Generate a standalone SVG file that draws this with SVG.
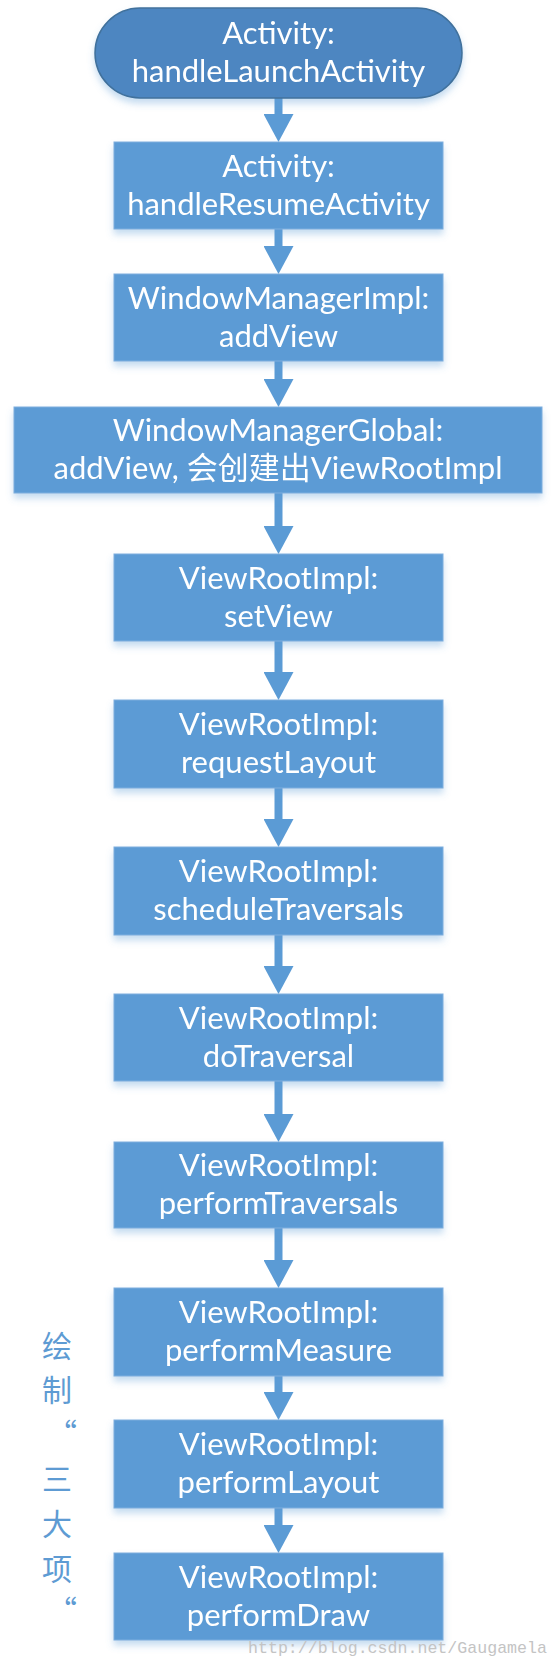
<svg xmlns="http://www.w3.org/2000/svg" width="559" height="1666" viewBox="0 0 559 1666">
<defs>
<style>
.box{fill:#5b9bd5;stroke:#7eaede;stroke-width:1}
.term{fill:#4d86c1;stroke:#41719c;stroke-width:1.5}
.lbl{font-family:Lato,"Noto Sans CJK SC",sans-serif;font-size:31px;fill:#ffffff;text-anchor:middle}
.side{font-family:"Noto Sans CJK SC",sans-serif;font-size:30px;fill:#5e9bd3;text-anchor:middle}
.conn line{stroke:#5b9bd5;stroke-width:8;marker-end:url(#ah)}
.wm{font-family:"Liberation Mono",monospace;font-size:17px;fill:#c4c4c4}
</style>
<filter id="sh" x="-10%" y="-20%" width="120%" height="150%">
<feGaussianBlur in="SourceAlpha" stdDeviation="3.5"/>
<feOffset dy="5" result="b"/>
<feFlood flood-color="#5b9bd5" flood-opacity="0.35"/>
<feComposite in2="b" operator="in"/>
<feMerge><feMergeNode/><feMergeNode in="SourceGraphic"/></feMerge>
</filter>
<marker id="ah" markerUnits="userSpaceOnUse" markerWidth="28" markerHeight="30" refX="0" refY="15" orient="auto">
<path d="M0,0 L28,15 L0,30 Z" fill="#5b9bd5"/>
</marker>
</defs>
<rect width="559" height="1666" fill="#ffffff"/>
<g id="connectors" class="conn">
<line x1="278.5" y1="98" x2="278.5" y2="114"/>
<line x1="278.5" y1="229" x2="278.5" y2="246"/>
<line x1="278.5" y1="361" x2="278.5" y2="379"/>
<line x1="278.5" y1="493" x2="278.5" y2="526"/>
<line x1="278.5" y1="641" x2="278.5" y2="672"/>
<line x1="278.5" y1="788" x2="278.5" y2="819"/>
<line x1="278.5" y1="935" x2="278.5" y2="966"/>
<line x1="278.5" y1="1081" x2="278.5" y2="1114"/>
<line x1="278.5" y1="1228" x2="278.5" y2="1260"/>
<line x1="278.5" y1="1376" x2="278.5" y2="1392"/>
<line x1="278.5" y1="1508" x2="278.5" y2="1525"/>
</g>
<g id="n1" filter="url(#sh)">
<rect class="term" x="95" y="8" width="367" height="90" rx="45" ry="45"/>
<text class="lbl" x="278.5" y="44">Activity:</text>
<text class="lbl" x="278.5" y="82">handleLaunchActivity</text>
</g>
<g id="n2" filter="url(#sh)">
<rect class="box" x="114" y="142" width="329" height="87"/>
<text class="lbl" x="278.5" y="176.5">Activity:</text>
<text class="lbl" x="278.5" y="214.5">handleResumeActivity</text>
</g>
<g id="n3" filter="url(#sh)">
<rect class="box" x="114" y="274" width="329" height="87"/>
<text class="lbl" x="278.5" y="308.5">WindowManagerImpl:</text>
<text class="lbl" x="278.5" y="346.5">addView</text>
</g>
<g id="n4" filter="url(#sh)">
<rect class="box" x="14" y="407" width="528" height="86"/>
<text class="lbl" x="278" y="441">WindowManagerGlobal:</text>
<text class="lbl" x="278" y="479">addView, 会创建出ViewRootImpl</text>
</g>
<g id="n5" filter="url(#sh)">
<rect class="box" x="114" y="554" width="329" height="87"/>
<text class="lbl" x="278.5" y="588.5">ViewRootImpl:</text>
<text class="lbl" x="278.5" y="626.5">setView</text>
</g>
<g id="n6" filter="url(#sh)">
<rect class="box" x="114" y="700" width="329" height="88"/>
<text class="lbl" x="278.5" y="735">ViewRootImpl:</text>
<text class="lbl" x="278.5" y="773">requestLayout</text>
</g>
<g id="n7" filter="url(#sh)">
<rect class="box" x="114" y="847" width="329" height="88"/>
<text class="lbl" x="278.5" y="882">ViewRootImpl:</text>
<text class="lbl" x="278.5" y="920">scheduleTraversals</text>
</g>
<g id="n8" filter="url(#sh)">
<rect class="box" x="114" y="994" width="329" height="87"/>
<text class="lbl" x="278.5" y="1028.5">ViewRootImpl:</text>
<text class="lbl" x="278.5" y="1066.5">doTraversal</text>
</g>
<g id="n9" filter="url(#sh)">
<rect class="box" x="114" y="1142" width="329" height="86"/>
<text class="lbl" x="278.5" y="1176">ViewRootImpl:</text>
<text class="lbl" x="278.5" y="1214">performTraversals</text>
</g>
<g id="n10" filter="url(#sh)">
<rect class="box" x="114" y="1288" width="329" height="88"/>
<text class="lbl" x="278.5" y="1323">ViewRootImpl:</text>
<text class="lbl" x="278.5" y="1361">performMeasure</text>
</g>
<g id="n11" filter="url(#sh)">
<rect class="box" x="114" y="1420" width="329" height="88"/>
<text class="lbl" x="278.5" y="1455">ViewRootImpl:</text>
<text class="lbl" x="278.5" y="1493">performLayout</text>
</g>
<g id="n12" filter="url(#sh)">
<rect class="box" x="114" y="1553" width="329" height="87"/>
<text class="lbl" x="278.5" y="1587.5">ViewRootImpl:</text>
<text class="lbl" x="278.5" y="1625.5">performDraw</text>
</g>
<g id="side-note">
<text class="side" x="57" y="1357">绘</text>
<text class="side" x="57" y="1401">制</text>
<text class="side" x="62" y="1445">“</text>
<text class="side" x="57" y="1490">三</text>
<text class="side" x="57" y="1535">大</text>
<text class="side" x="57" y="1580">项</text>
<text class="side" x="62" y="1622">“</text>
</g>
<text class="wm" x="248" y="1653" textLength="299" lengthAdjust="spacingAndGlyphs">http://blog.csdn.net/Gaugamela</text>
</svg>
